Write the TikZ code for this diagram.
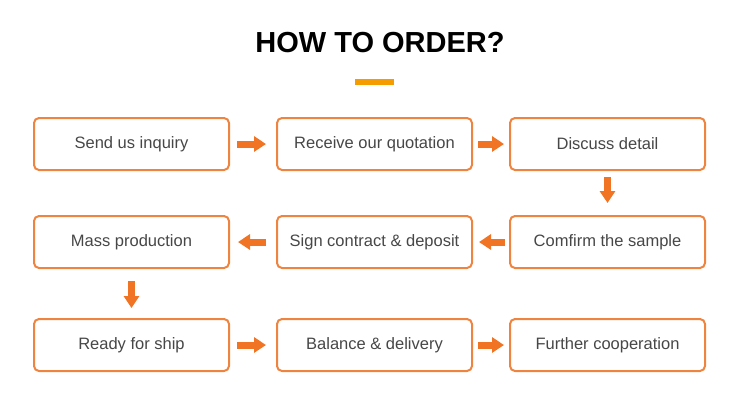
\documentclass[tikz,border=0pt]{standalone}
\usepackage{fontspec}
\setmainfont{Liberation Sans}
\usepackage{xcolor}
\usepackage{tikz}
\usetikzlibrary{arrows.meta, positioning}
\definecolor{boxorange}{HTML}{EE8440}
\definecolor{arrorange}{HTML}{F07424}
\definecolor{barorange}{HTML}{F59C00}
\definecolor{textgray}{HTML}{474747}
\tikzstyle{flow} = [line width=7pt, draw=arrorange, -{Triangle[width=15pt,length=12pt]}]

\begin{document}
\begin{tikzpicture}[
			x=1pt, y=-1pt,
			stepbox/.style={draw=boxorange, line width=2pt, rounded corners=5pt, fill=white,
				minimum width=195pt, minimum height=52pt, text=textgray,
				font=\fontsize{16.5}{20}\selectfont}
			]
			\useasboundingbox (0,0) rectangle (750,416);
			
			% Heading
			\node (title) [anchor=base, font=\bfseries\fontsize{29}{34}\selectfont] at (380,52) {HOW TO ORDER?};
			\fill[barorange] (355,79) rectangle (394,85);
			
			% Steps
			\node[stepbox] (inquiry) at (131.5,144) {Send us inquiry};
			\node[stepbox, right=46pt of inquiry] (quote) {Receive our quotation};
			\node[stepbox, right=36pt of quote] (detail) {Discuss detail};
			\node[stepbox, below=44pt of detail] (sample) {Comfirm the sample};
			\node[stepbox, below=44pt of quote] (contract) {Sign contract \& deposit};
			\node[stepbox, below=44pt of inquiry] (mass) {Mass production};
			\node[stepbox, below=49pt of mass] (ship) {Ready for ship};
			\node[stepbox, right=46pt of ship] (delivery) {Balance \& delivery};
			\node[stepbox, right=36pt of delivery] (coop) {Further cooperation};
			
			% Flow arrows
			\draw[flow, shorten <=7pt, shorten >=10pt] (inquiry) -- (quote);
			\draw[flow, shorten <=5pt, shorten >=5pt] (quote) -- (detail);
			\draw[flow, shorten <=6pt, shorten >=12pt] (detail) -- (sample);
			\draw[flow, shorten <=4pt, shorten >=6pt] (sample) -- (contract);
			\draw[flow, shorten <=10pt, shorten >=8pt] (contract) -- (mass);
			\draw[flow, shorten <=12pt, shorten >=10pt] (mass) -- (ship);
			\draw[flow, shorten <=7pt, shorten >=10pt] (ship) -- (delivery);
			\draw[flow, shorten <=5pt, shorten >=5pt] (delivery) -- (coop);
			
		\end{tikzpicture}
\end{document}
